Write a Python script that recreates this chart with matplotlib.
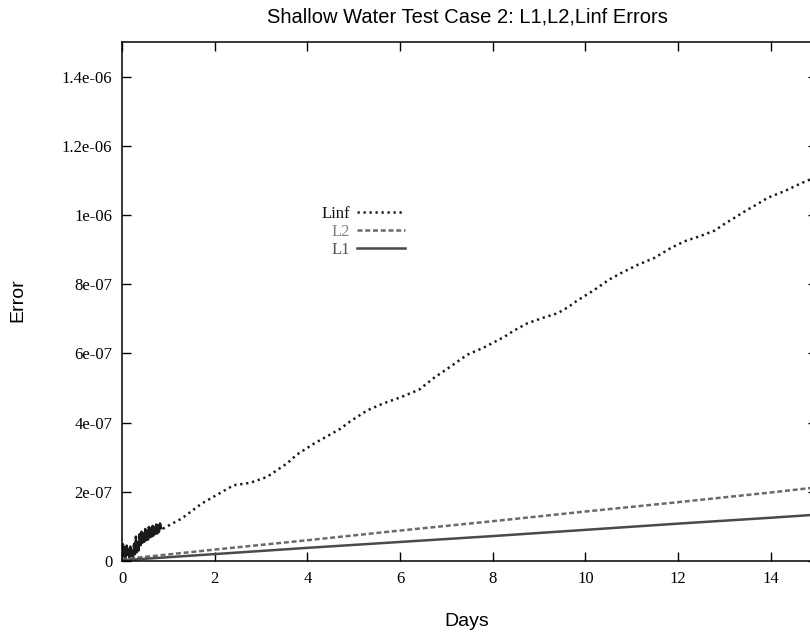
import matplotlib
matplotlib.use('Agg')
import matplotlib.pyplot as plt
import numpy as np

# --- data (days, error) ---
# Linf: noisy start (first 0.85 day) then smooth growth
linf_days = [0.00, 0.02, 0.04, 0.06, 0.08, 0.10, 0.12, 0.14, 0.16, 0.18,
             0.20, 0.22, 0.24, 0.26, 0.28, 0.30, 0.32, 0.34, 0.36, 0.38,
             0.40, 0.42, 0.44, 0.46, 0.48, 0.50, 0.52, 0.54, 0.56, 0.58,
             0.60, 0.62, 0.64, 0.66, 0.68, 0.70, 0.72, 0.74, 0.76, 0.78,
             0.80, 0.82, 0.85,
             0.89, 1.29, 1.72, 2.41, 2.77, 3.13, 3.34, 3.56, 3.78, 4.14,
             4.50, 4.71, 4.93, 5.29, 5.65, 6.01, 6.41, 6.73, 7.09, 7.45,
             7.81, 8.24, 8.46, 8.75, 9.11, 9.40, 9.62, 9.83, 10.19, 10.51,
             10.77, 11.13, 11.49, 11.85, 12.14, 12.50, 12.79, 13.00, 13.22, 13.47,
             13.72, 13.94, 14.30, 14.66, 14.84, 15.00]
linf_err = [0.10, 0.48, 0.15, 0.40, 0.08, 0.45, 0.18, 0.35, 0.10, 0.42,
            0.15, 0.30, 0.08, 0.50, 0.20, 0.70, 0.25, 0.55, 0.30, 0.78,
            0.45, 0.85, 0.52, 0.80, 0.55, 0.92, 0.60, 0.88, 0.62, 0.98,
            0.68, 0.95, 0.70, 1.02, 0.74, 0.98, 0.78, 1.06, 0.80, 1.04,
            0.84, 1.08, 0.95,
            0.94, 1.23, 1.66, 2.19, 2.26, 2.43, 2.62, 2.82, 3.08, 3.39,
            3.66, 3.82, 4.04, 4.35, 4.56, 4.73, 4.95, 5.29, 5.62, 5.96,
            6.17, 6.47, 6.66, 6.87, 7.04, 7.16, 7.33, 7.53, 7.83, 8.13,
            8.32, 8.56, 8.76, 9.05, 9.24, 9.40, 9.55, 9.74, 9.92, 10.13,
            10.32, 10.50, 10.69, 10.92, 11.02, 11.08]
n_noisy = 43

l2_days = [0, 2, 4, 6, 8, 10, 12, 14, 15]
l2_err  = [0.05, 0.33, 0.60, 0.88, 1.15, 1.43, 1.70, 1.98, 2.13]

l1_days = [0, 2, 4, 6, 8, 10, 12, 14, 15]
l1_err  = [0.02, 0.20, 0.38, 0.55, 0.72, 0.90, 1.08, 1.25, 1.34]

scale = 1e-7
linf = np.array(linf_err) * scale
l2   = np.array(l2_err) * scale
l1   = np.array(l1_err) * scale

ytick_vals   = [0, 2e-7, 4e-7, 6e-7, 8e-7, 1e-6, 1.2e-6, 1.4e-6]
ytick_labels = ['0', '2e-07', '4e-07', '6e-07', '8e-07', '1e-06', '1.2e-06', '1.4e-06']
xtick_vals   = [0, 2, 4, 6, 8, 10, 12, 14]

# --- figure ---
fig = plt.figure(figsize=(8.1, 6.37), dpi=100)
W, H = 810, 637
ax = fig.add_axes([122 / W, (H - 561) / H, 695 / W, 519 / H])

ax.plot(linf_days, linf, color='#1a1a1a', lw=1.8, linestyle=(0, (0.9, 1.5)),
        label='Linf')
ax.plot(linf_days[:n_noisy], linf[:n_noisy], color='#1a1a1a', lw=1.6)
ax.plot(l2_days, l2, color='#6a6a6a', lw=1.8, linestyle=(0, (2.0, 1.1)),
        label='L2')
ax.plot(l1_days, l1, color='#4a4a4a', lw=1.8, label='L1')

ax.set_xlim(0, 15)
ax.set_ylim(0, 1.5e-6)
ax.set_xticks(xtick_vals)
ax.set_xticklabels([str(v) for v in xtick_vals])
ax.set_yticks(ytick_vals)
ax.set_yticklabels(ytick_labels)

ax.tick_params(direction='in', length=6.5, width=1.0, top=True, right=True,
               labelsize=12, pad=7)
for lab in ax.get_xticklabels() + ax.get_yticklabels():
    lab.set_family('Liberation Serif')
for sp in ax.spines.values():
    sp.set_linewidth(1.1)

fig.text(467 / W, 1 - 17 / H, 'Shallow Water Test Case 2: L1,L2,Linf Errors',
         ha='center', va='center', fontsize=14.5, family='Liberation Sans')
fig.text(18 / W, 1 - 300 / H, 'Error', ha='center', va='center', rotation=90,
         fontsize=14, family='Liberation Sans')
fig.text(467 / W, 1 - 622 / H, 'Days', ha='center', va='center',
         fontsize=14, family='Liberation Sans')

leg = ax.legend(loc='upper right', bbox_to_anchor=(405 / W, 1 - 206 / H),
                bbox_transform=fig.transFigure, frameon=False, markerfirst=False,
                handlelength=2.9, handletextpad=0.4, labelspacing=0.12,
                borderpad=0, borderaxespad=0,
                prop={'family': 'Liberation Serif', 'size': 12},
                labelcolor=['#111111', '#808080', '#555555'])

fig.savefig('out.png', dpi=100)
